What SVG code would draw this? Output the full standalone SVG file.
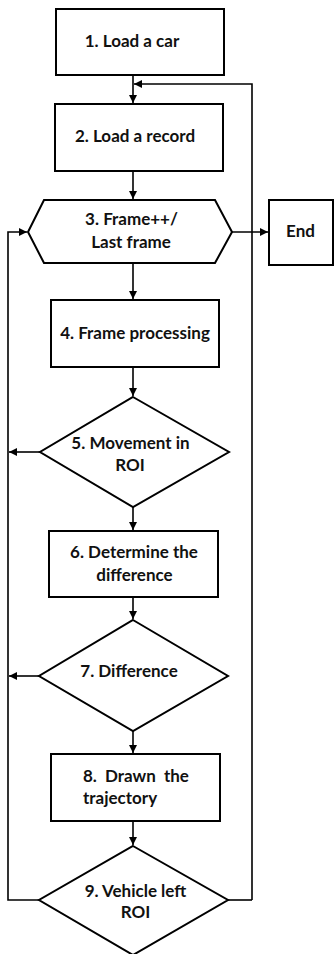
<svg xmlns="http://www.w3.org/2000/svg" width="335" height="954" viewBox="0 0 335 954">
<defs>
<marker id="ah" viewBox="0 0 10 10" refX="10" refY="5" markerWidth="8" markerHeight="8" markerUnits="userSpaceOnUse" orient="auto">
<path d="M0,0 L10,5 L0,10 Z" fill="#000"/>
</marker>
<style>
.n{fill:#fff;stroke:#000;stroke-width:2}
.t{font-family:Lato,"Liberation Sans",sans-serif;font-weight:bold;font-size:17px;fill:#111;text-anchor:middle}
.c{fill:none;stroke:#000;stroke-width:1.6}
</style>
</defs>
<rect width="335" height="954" fill="#fff"/>
<g id="connectors">
<path class="c" d="M133,75 V103" marker-end="url(#ah)"/>
<path class="c" d="M252,900 V84 H134" marker-end="url(#ah)"/>
<path class="c" d="M133,171 V199" marker-end="url(#ah)"/>
<path class="c" d="M232,232 H268" marker-end="url(#ah)"/>
<path class="c" d="M133,263 V299" marker-end="url(#ah)"/>
<path class="c" d="M133,367 V396" marker-end="url(#ah)"/>
<path class="c" d="M40,452 H9" marker-end="url(#ah)"/>
<path class="c" d="M133,507 V530" marker-end="url(#ah)"/>
<path class="c" d="M133,597 V619" marker-end="url(#ah)"/>
<path class="c" d="M39,676 H9" marker-end="url(#ah)"/>
<path class="c" d="M133,731 V753" marker-end="url(#ah)"/>
<path class="c" d="M133,821 V845" marker-end="url(#ah)"/>
<path class="c" d="M228,900 H252"/>
<path class="c" d="M40,900 H8 V232 H27" marker-end="url(#ah)"/>
</g>
<g id="n1">
<rect class="n" x="56" y="9" width="168" height="66"/>
<text class="t" x="132" y="47">1. Load a car</text>
</g>
<g id="n2">
<rect class="n" x="55" y="104" width="168" height="67"/>
<text class="t" x="135" y="142">2. Load a record</text>
</g>
<g id="n3">
<polygon class="n" points="44,200 215,200 232,232 215,263 44,263 28,232"/>
<text class="t" x="131.5" y="225">3. Frame++/</text>
<text class="t" x="131" y="248">Last frame</text>
</g>
<g id="end">
<rect class="n" x="269" y="200" width="64" height="65"/>
<text class="t" x="300.5" y="237">End</text>
</g>
<g id="n4">
<rect class="n" x="51" y="300" width="168" height="67"/>
<text class="t" x="135" y="339">4. Frame processing</text>
</g>
<g id="n5">
<polygon class="n" points="133,397 229,452 133,507 40,452"/>
<text class="t" x="130.5" y="449">5. Movement in</text>
<text class="t" x="130" y="471">ROI</text>
</g>
<g id="n6">
<rect class="n" x="49" y="531" width="169" height="66"/>
<text class="t" x="134" y="558">6. Determine the</text>
<text class="t" x="134.5" y="581">difference</text>
</g>
<g id="n7">
<polygon class="n" points="133,620 228,676 133,731 39,676"/>
<text class="t" x="129" y="677">7. Difference</text>
</g>
<g id="n8">
<rect class="n" x="51" y="754" width="169" height="67"/>
<text class="t" x="83" y="782" style="text-anchor:start" word-spacing="4">8. Drawn the</text>
<text class="t" x="83" y="804" style="text-anchor:start">trajectory</text>
</g>
<g id="n9">
<polygon class="n" points="133,846 228,900 133,955 39,900"/>
<text class="t" x="135.5" y="897">9. Vehicle left</text>
<text class="t" x="135.5" y="918">ROI</text>
</g>
</svg>
